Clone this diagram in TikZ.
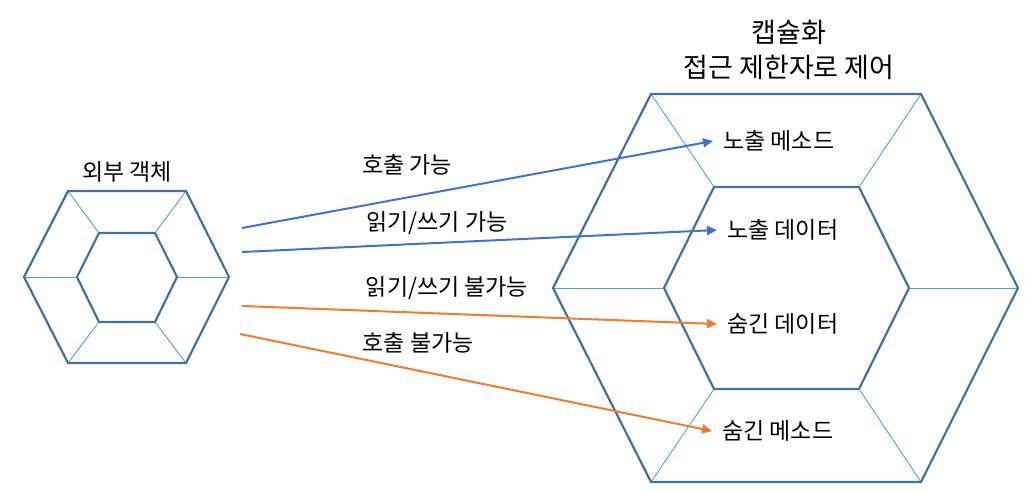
\documentclass[tikz,border=0pt]{standalone}
\usepackage{fontspec}
\setmainfont{Noto Sans CJK KR}
\usetikzlibrary{arrows.meta}

\definecolor{hexblue}{RGB}{65,113,156}
\definecolor{spokeblue}{RGB}{91,155,213}
\definecolor{okblue}{RGB}{68,114,196}
\definecolor{noorange}{RGB}{237,125,49}

\begin{document}
\begin{tikzpicture}[
    x=1pt, y=-1pt,
    >={Triangle[length=10pt, width=9pt]}, % Office-like arrow heads
    hexline/.style={draw=hexblue, line width=2.2pt, line join=miter},
    spoke/.style={draw=spokeblue, line width=0.9pt},
    txt/.style={font=\fontsize{23}{28}\selectfont, inner sep=0pt},
    member/.style={txt, anchor=west, inner xsep=10pt},
    okarrow/.style={->, draw=okblue, line width=2pt},
    noarrow/.style={->, draw=noorange, line width=2pt}
]
\useasboundingbox (0,0) rectangle (1025,492);

% Left hexagon (outer object)
\coordinate (lo1) at (68,191);  \coordinate (lo2) at (186,191);
\coordinate (lo3) at (229,277); \coordinate (lo4) at (186,363);
\coordinate (lo5) at (68,363);  \coordinate (lo6) at (24,277);
\coordinate (li1) at (99,233);  \coordinate (li2) at (155,233);
\coordinate (li3) at (177,277); \coordinate (li4) at (155,322);
\coordinate (li5) at (99,322);  \coordinate (li6) at (77,277);

% Right hexagon (encapsulation)
\coordinate (ro1) at (651,94);  \coordinate (ro2) at (921,94);
\coordinate (ro3) at (1018,288); \coordinate (ro4) at (921,482);
\coordinate (ro5) at (651,482); \coordinate (ro6) at (553,288);
\coordinate (ri1) at (714,187); \coordinate (ri2) at (859,187);
\coordinate (ri3) at (909,288); \coordinate (ri4) at (859,389);
\coordinate (ri5) at (714,389); \coordinate (ri6) at (664,288);

% Spokes between the rings
\foreach \i in {1,...,6} {
    \draw[spoke] (lo\i) -- (li\i);
    \draw[spoke] (ro\i) -- (ri\i);
}

% Outlines
\draw[hexline] (lo1) -- (lo2) -- (lo3) -- (lo4) -- (lo5) -- (lo6) -- cycle;
\draw[hexline] (li1) -- (li2) -- (li3) -- (li4) -- (li5) -- (li6) -- cycle;
\draw[hexline] (ro1) -- (ro2) -- (ro3) -- (ro4) -- (ro5) -- (ro6) -- cycle;
\draw[hexline] (ri1) -- (ri2) -- (ri3) -- (ri4) -- (ri5) -- (ri6) -- cycle;

% Titles
\node[txt] (outer) at (127,172) {외부 객체};
\node[txt, align=center, font=\fontsize{27}{35}\selectfont] (capsule) at (789,50) {캡슐화\\접근 제한자로 제어};

% Members
\node[member] (pubmethod) at (713,141) {노출 메소드};
\node[member] (pubdata)   at (717,230) {노출 데이터};
\node[member] (hiddata)   at (717,324) {숨긴 데이터};
\node[member] (hidmethod) at (712,431) {숨긴 메소드};

% Arrow start points
\coordinate (s1) at (242,228);
\coordinate (s2) at (242,252);
\coordinate (s3) at (242,306);
\coordinate (s4) at (240,334);

% Access arrows
\draw[okarrow] (s1) -- (pubmethod.west);
\draw[okarrow] (s2) -- (pubdata.west);
\draw[noarrow] (s3) -- (hiddata.west);
\draw[noarrow] (s4) -- (hidmethod.west);

% Arrow labels
\node[txt] (call)    at (407,165) {호출 가능};
\node[txt] (rw)      at (437,223) {읽기/쓰기 가능};
\node[txt] (norw)    at (447,288) {읽기/쓰기 불가능};
\node[txt] (nocall)  at (418,343) {호출 불가능};

\end{tikzpicture}
\end{document}
